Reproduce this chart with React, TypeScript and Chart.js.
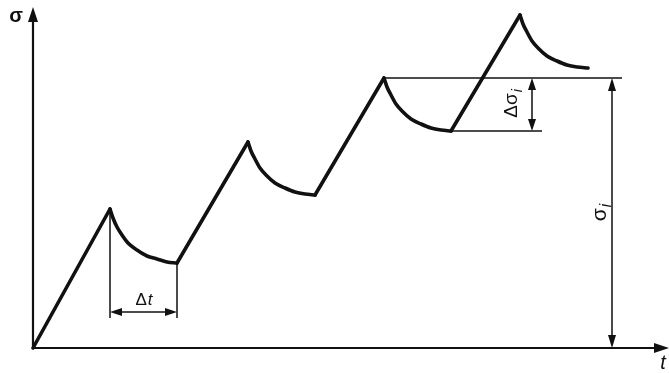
import React, { useEffect, useRef } from "react";
import { Chart, registerables } from "chart.js";

Chart.register(...registerables);

// Time (t) and stress (σ) values of the loading ramps: pairs (start, peak)
const rampTime = [0, 77, 144, 215, 282, 351, 418, 487];
const rampStress = [0, 139, 85, 206, 153, 270, 217, 333];

// Relaxation curves after each peak
const relax1Time = [77, 80, 84, 89, 95, 104, 114, 124, 134, 144];
const relax1Stress = [139, 130, 121, 113, 105, 98, 92, 89, 86, 85];
const relax2Time = [215, 218, 222, 227, 233, 242, 252, 262, 272, 282];
const relax2Stress = [206, 197, 189, 180, 173, 165, 160, 156, 154, 153];
const relax3Time = [351, 354, 358, 363, 369, 378, 388, 398, 408, 418];
const relax3Stress = [270, 261, 253, 244, 237, 229, 224, 220, 218, 217];
const relax4Time = [487, 490, 494, 499, 505, 514, 524, 534, 544, 555];
const relax4Stress = [333, 324, 316, 307, 300, 292, 287, 283, 281, 280];

// Dimension references
const sigmaLevel = 270; // σi level
const sigmaLow = 217; // lower level of Δσi
const sigmaRefEnd = 589; // end of σi reference line (t)
const lowRefEnd = 509; // end of Δσi lower line (t)
const dSigmaArrowT = 499;
const sigmaArrowT = 579;
const dtStart = 77;
const dtEnd = 144;
const dtStressPeak = 139;
const dtStressEnd = 85;
const dtArrowStress = 36;
const dtLineBottom = 30;
const axisTop = 340;
const axisRight = 636;

const pts = (ts: number[], ss: number[]) => ts.map((t, i) => ({ x: t, y: ss[i] }));

function rampData() {
  const out: any[] = [];
  for (let i = 0; i < rampTime.length; i += 2) {
    out.push({ x: rampTime[i], y: rampStress[i] });
    out.push({ x: rampTime[i + 1], y: rampStress[i + 1] });
    if (i + 2 < rampTime.length) out.push({ x: (rampTime[i + 1] + rampTime[i + 2]) / 2, y: null });
  }
  return out;
}

const INK = "#111";
const FONT = "'Liberation Sans', Arial, sans-serif";

function head(ctx: CanvasRenderingContext2D, x: number, y: number, dx: number, dy: number, len: number, hw: number) {
  const nx = -dy, ny = dx;
  ctx.beginPath();
  ctx.moveTo(x, y);
  ctx.lineTo(x - dx * len + nx * hw, y - dy * len + ny * hw);
  ctx.lineTo(x - dx * len - nx * hw, y - dy * len - ny * hw);
  ctx.closePath();
  ctx.fill();
}

const annotPlugin = {
  id: "annot",
  afterDatasetsDraw(chart: any) {
    const { ctx, scales } = chart;
    const X = (t: number) => scales.x.getPixelForValue(t);
    const Y = (s: number) => scales.y.getPixelForValue(s);
    ctx.save();
    ctx.fillStyle = INK;
    // axis arrowheads
    head(ctx, X(0), Y(axisTop) - 1, 0, -1, 15, 5);
    head(ctx, X(axisRight), Y(0), 1, 0, 15, 5);
    // Δt arrows
    head(ctx, X(dtStart), Y(dtArrowStress), -1, 0, 12, 4);
    head(ctx, X(dtEnd), Y(dtArrowStress), 1, 0, 12, 4);
    // Δσi arrows
    head(ctx, X(dSigmaArrowT), Y(sigmaLevel), 0, -1, 12, 4);
    head(ctx, X(dSigmaArrowT), Y(sigmaLow), 0, 1, 12, 4);
    // σi arrows
    head(ctx, X(sigmaArrowT), Y(sigmaLevel), 0, -1, 13, 4);
    head(ctx, X(sigmaArrowT), Y(0), 0, 1, 13, 4);

    ctx.textBaseline = "middle";
    // σ axis label
    ctx.font = `bold 20px ${FONT}`;
    ctx.textAlign = "center";
    ctx.fillText("σ", 16, 16);
    // t axis label
    ctx.font = `italic 20px ${FONT}`;
    ctx.fillText("t", 663, 363);

    // Δt label
    {
      ctx.textAlign = "left";
      ctx.font = `17px ${FONT}`;
      const w1 = ctx.measureText("Δ").width;
      ctx.font = `italic 17px ${FONT}`;
      const w2 = ctx.measureText("t").width;
      const cx = (X(dtStart) + X(dtEnd)) / 2;
      const x0 = cx - (w1 + w2) / 2;
      ctx.font = `17px ${FONT}`;
      ctx.fillText("Δ", x0, 300);
      ctx.font = `italic 17px ${FONT}`;
      ctx.fillText("t", x0 + w1 + 1, 300);
    }
    // rotated labels
    const rotLabel = (main: string, cx: number, cy: number, size: number) => {
      ctx.save();
      ctx.translate(cx, cy);
      ctx.rotate(-Math.PI / 2);
      ctx.textAlign = "left";
      ctx.font = `${size}px ${FONT}`;
      const w1 = ctx.measureText(main).width;
      ctx.font = `italic ${size * 0.75}px ${FONT}`;
      const w2 = ctx.measureText("i").width;
      const x0 = -(w1 + w2) / 2;
      ctx.font = `${size}px ${FONT}`;
      ctx.fillText(main, x0, 0);
      ctx.font = `italic ${size * 0.75}px ${FONT}`;
      ctx.fillText("i", x0 + w1 + 1, size * 0.3);
      ctx.restore();
    };
    rotLabel("Δσ", 512, 104, 19);
    rotLabel("σ", 600, 213, 21);
    ctx.restore();
  },
};

export default function App() {
  const ref = useRef<HTMLCanvasElement | null>(null);
  useEffect(() => {
    document.body.style.margin = "0";
    document.body.style.background = "#fff";
    const thick = { borderColor: INK, borderWidth: 3.6, pointRadius: 0, borderCapStyle: "round", borderJoinStyle: "round", fill: false, spanGaps: false };
    const relax = { ...thick, cubicInterpolationMode: "monotone" };
    const thin = { borderColor: INK, borderWidth: 1.5, pointRadius: 0, fill: false, tension: 0 };
    const axis = { borderColor: INK, borderWidth: 2.2, pointRadius: 0, fill: false, tension: 0 };
    const chart = new Chart(ref.current as HTMLCanvasElement, {
      type: "line",
      data: {
        datasets: [
          { ...axis, data: [{ x: 0, y: 0 }, { x: 0, y: axisTop - 8 }] },
          { ...axis, data: [{ x: 0, y: 0 }, { x: axisRight - 8, y: 0 }] },
          { ...thin, data: [{ x: relax3Time[0], y: sigmaLevel }, { x: sigmaRefEnd, y: sigmaLevel }] },
          { ...thin, data: [{ x: relax3Time[relax3Time.length - 1], y: sigmaLow }, { x: lowRefEnd, y: sigmaLow }] },
          { ...thin, data: [{ x: dSigmaArrowT, y: sigmaLevel - 6 }, { x: dSigmaArrowT, y: sigmaLow + 6 }] },
          { ...thin, data: [{ x: sigmaArrowT, y: sigmaLevel - 6 }, { x: sigmaArrowT, y: 6 }] },
          { ...thin, data: [{ x: dtStart, y: dtStressPeak }, { x: dtStart, y: dtLineBottom }] },
          { ...thin, data: [{ x: dtEnd, y: dtStressEnd }, { x: dtEnd, y: dtLineBottom }] },
          { ...thin, data: [{ x: dtStart + 6, y: dtArrowStress }, { x: dtEnd - 6, y: dtArrowStress }] },
          { ...thick, tension: 0, data: rampData() },
          { ...relax, data: pts(relax1Time, relax1Stress) },
          { ...relax, data: pts(relax2Time, relax2Stress) },
          { ...relax, data: pts(relax3Time, relax3Stress) },
          { ...relax, data: pts(relax4Time, relax4Stress) },
        ] as any,
      },
      options: {
        animation: false,
        responsive: false,
        maintainAspectRatio: false,
        layout: { padding: 0 },
        events: [],
        plugins: { legend: { display: false }, tooltip: { enabled: false } },
        scales: {
          x: { type: "linear", min: -33, max: 636, display: false },
          y: { type: "linear", min: -25, max: 348, display: false },
        },
        elements: { line: { clip: false } as any },
      } as any,
      plugins: [annotPlugin],
    });
    return () => chart.destroy();
  }, []);
  return <canvas ref={ref} width={669} height={373} style={{ display: "block" }} />;
}
